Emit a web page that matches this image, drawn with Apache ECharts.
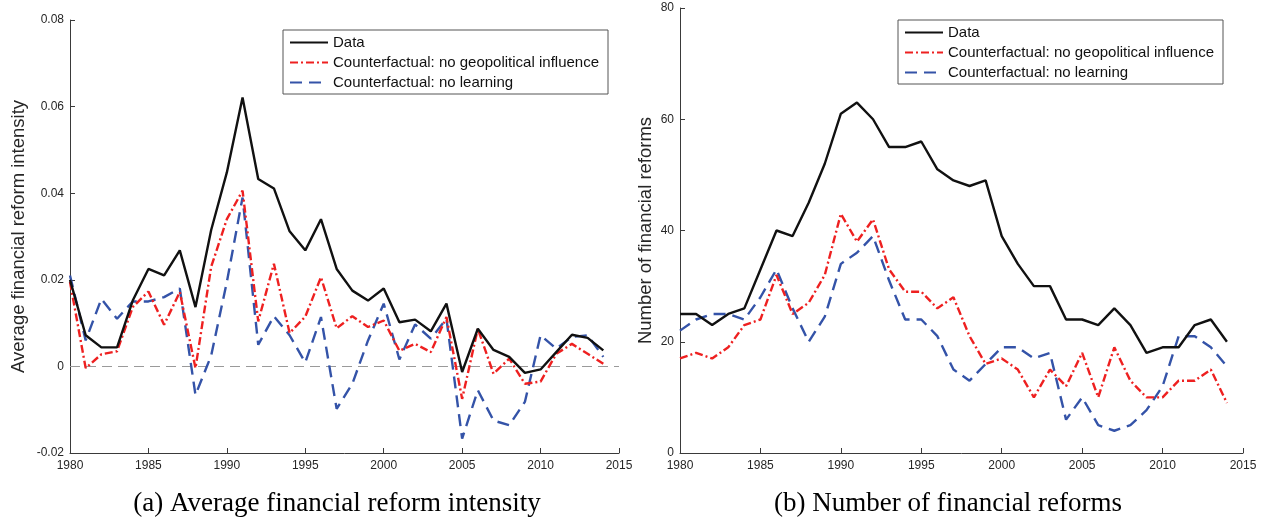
<!DOCTYPE html>
<html>
<head>
<meta charset="utf-8">
<script src="https://cdn.jsdelivr.net/npm/echarts@6/dist/echarts.min.js"></script>
<style>
html,body{margin:0;padding:0;background:#fff;}
#chart{width:1267px;height:523px;}
</style>
</head>
<body>
<div id="chart"></div>
<script>
// ---- data ----
const years = [1980,1981,1982,1983,1984,1985,1986,1987,1988,1989,1990,1991,1992,1993,1994,1995,1996,1997,1998,1999,2000,2001,2002,2003,2004,2005,2006,2007,2008,2009,2010,2011,2012,2013,2014];

const intensityData = [0.0200,0.0072,0.0044,0.0044,0.0152,0.0225,0.0210,0.0268,0.0137,0.0315,0.0448,0.0621,0.0433,0.0411,0.0312,0.0268,0.0340,0.0225,0.0175,0.0152,0.0180,0.0102,0.0108,0.0081,0.0145,-0.0013,0.0087,0.0038,0.0022,-0.0015,-0.0007,0.0033,0.0073,0.0066,0.0037];
const intensityNoGeo = [0.0195,-0.0004,0.0028,0.0035,0.0137,0.0173,0.0096,0.0172,-0.0004,0.0230,0.0340,0.0406,0.0104,0.0237,0.0077,0.0115,0.0206,0.0088,0.0116,0.0091,0.0106,0.0036,0.0052,0.0033,0.0114,-0.0075,0.0087,-0.0017,0.0018,-0.0040,-0.0035,0.0029,0.0052,0.0029,0.0006];
const intensityNoLearn = [0.0210,0.0060,0.0156,0.0110,0.0150,0.0150,0.0160,0.0180,-0.0066,0.0025,0.0195,0.0390,0.0050,0.0116,0.0072,0.0009,0.0114,-0.0098,-0.0040,0.0060,0.0145,0.0016,0.0097,0.0064,0.0110,-0.0167,-0.0055,-0.0125,-0.0136,-0.0082,0.0072,0.0041,0.0068,0.0072,0.0022];

const countData = [25,25,23,25,26,33,40,39,45,52,61,63,60,55,55,56,51,49,48,49,39,34,30,30,24,24,23,26,23,18,19,19,23,24,20];
const countNoGeo = [17,18,17,19,23,24,32,25,27,32,43,38,42,33,29,29,26,28,21,16,17,15,10,15,12,18,10,19,13,10,10,13,13,15,9];
const countNoLearn = [22,24,25,25,24,28,33,26,20,24.5,34,36,39,31,24,24,21,15,13,16,19,19,17,18,6,10,5,4,5,7.7,12,21,21,19,15.6];

const xTicks = [1980,1985,1990,1995,2000,2005,2010,2015];
const yTicksLeft = [-0.02,0,0.02,0.04,0.06,0.08];
const yTicksRight = [0,20,40,60,80];

const seriesNames = ['Data','Counterfactual: no geopolitical influence','Counterfactual: no learning'];
const yNameLeft = 'Average financial reform intensity';
const yNameRight = 'Number of financial reforms';
const captionLeft = '(a) Average financial reform intensity';
const captionRight = '(b) Number of financial reforms';

// ---- styling ----
const FONT = "'Liberation Sans', Arial, Helvetica, sans-serif";
const AXIS_COLOR = '#3a3a3a';
const COLORS = ['#111111','#ee2020','#3453a8'];
const LINE_TYPES = ['solid',[8,3,2,3],[12,7]];

function pairs(vals){ return years.map((y,i)=>[y, vals[i]]); }

function xAxisCfg(gridIndex){
  return {
    type:'value', gridIndex,
    min: xTicks[0], max: xTicks[xTicks.length-1], interval: xTicks[1]-xTicks[0],
    axisLine:{show:true, onZero:false, lineStyle:{color:AXIS_COLOR, width:1}},
    axisTick:{show:true, inside:true, length:5, lineStyle:{color:AXIS_COLOR}},
    axisLabel:{color:'#262626', fontFamily:FONT, fontSize:12, margin:7, formatter: v => String(v)},
    splitLine:{show:false}
  };
}
function yAxisCfg(gridIndex, ticks, name, gap, fmt){
  return {
    type:'value', gridIndex,
    min: ticks[0], max: ticks[ticks.length-1], interval: ticks[1]-ticks[0],
    name, nameLocation:'middle', nameGap:gap,
    nameTextStyle:{color:'#262626', fontFamily:FONT, fontSize:18.5},
    axisLine:{show:true, onZero:false, lineStyle:{color:AXIS_COLOR, width:1}},
    axisTick:{show:true, inside:true, length:5, lineStyle:{color:AXIS_COLOR}},
    axisLabel:{color:'#262626', fontFamily:FONT, fontSize:12, margin:6, formatter:fmt},
    splitLine:{show:false}
  };
}
function lineSeries(i, gridIdx, vals){
  return {
    name: seriesNames[i], type:'line',
    xAxisIndex:gridIdx, yAxisIndex:gridIdx,
    data: pairs(vals), symbol:'none', smooth:false,
    lineStyle:{color:COLORS[i], width:2.4, type:LINE_TYPES[i]},
    itemStyle:{color:COLORS[i]},
    z: 10 - i
  };
}

const legendBase = {
  orient:'vertical',
  data: seriesNames,
  itemWidth:38, itemHeight:14, itemGap:5,
  padding:[5,9,4,6],
  borderColor:'#555', borderWidth:1, backgroundColor:'#fff',
  textStyle:{color:'#111', fontFamily:FONT, fontSize:15},
  itemStyle:{opacity:0, borderWidth:0},
  selectedMode:false
};

const chart = echarts.init(document.getElementById('chart'), null, {renderer:'canvas'});

const s0 = lineSeries(0,0,intensityData);
s0.markLine = {
  silent:true, symbol:['none','none'], label:{show:false},
  lineStyle:{color:'#9a9a9a', type:[10,6], width:1.2},
  data:[{yAxis:0}], animation:false
};

const capFont = "27px 'Liberation Serif', 'DejaVu Serif', serif";

chart.setOption({
  animation:false,
  backgroundColor:'#fff',
  grid:[
    {left:70, top:20, width:549, height:433},
    {left:680, top:8, width:563, height:445}
  ],
  xAxis:[xAxisCfg(0), xAxisCfg(1)],
  yAxis:[
    yAxisCfg(0, yTicksLeft, yNameLeft, 42, v => v===0 ? '0' : v.toFixed(2)),
    yAxisCfg(1, yTicksRight, yNameRight, 25, v => String(v))
  ],
  legend:[
    Object.assign({left:283, top:30}, legendBase),
    Object.assign({left:898, top:20}, legendBase)
  ],
  series:[
    s0,
    lineSeries(1,0,intensityNoGeo),
    lineSeries(2,0,intensityNoLearn),
    lineSeries(0,1,countData),
    lineSeries(1,1,countNoGeo),
    lineSeries(2,1,countNoLearn)
  ],
  graphic:[
    {type:'text', x:337, y:504, style:{text:captionLeft, font:capFont, fill:'#000', textAlign:'center', textVerticalAlign:'middle'}},
    {type:'text', x:948, y:504, style:{text:captionRight, font:capFont, fill:'#000', textAlign:'center', textVerticalAlign:'middle'}}
  ]
});
</script>
</body>
</html>
